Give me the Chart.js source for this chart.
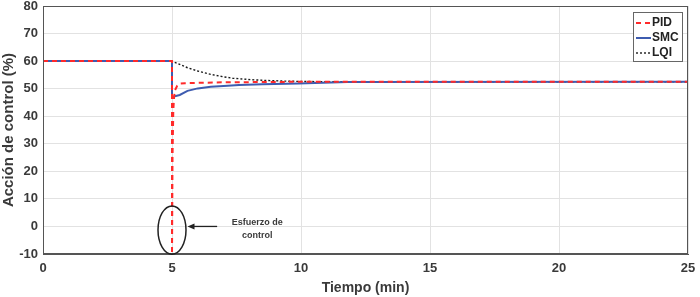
<!doctype html>
<html>
<head>
<meta charset="utf-8" />
<title>Acción de control</title>
<script src="https://cdn.jsdelivr.net/npm/chart.js@4"></script>
<style>
  html, body { margin: 0; padding: 0; background: #fff; }
  #wrap { width: 700px; height: 297px; }
</style>
</head>
<body>
<div id="wrap"><canvas id="grafico"></canvas></div>
<script>
// tiempo (min) y acción de control (%)
const pidT = [0, 5, 5, 5.02, 5.05, 5.08, 5.12, 5.2, 5.3, 5.5, 7, 10, 25];
const pidU = [60, 60, -10, 25, 42, 47, 49.5, 51, 51.8, 52, 52.3, 52.5, 52.5];
const smcT = [0, 5, 5, 5.3, 5.6, 6, 6.5, 7, 7.6, 8.5, 9.9, 11.8, 25];
const smcU = [60, 60, 47, 47.7, 49.2, 50.1, 50.7, 51.0, 51.3, 51.6, 51.9, 52.4, 52.5];
const lqiT = [0, 5, 5.3, 5.6, 6, 6.5, 7, 7.35, 8, 8.6, 9.5, 11, 25];
const lqiU = [60, 60, 58.8, 57.6, 56.4, 55.2, 54.3, 53.8, 53.3, 53.0, 52.7, 52.5, 52.5];
const etiquetas = ['PID', 'SMC', 'LQI'];

const xTicks = [0, 5, 10, 15, 20, 25];
const yTicks = [-10, 0, 10, 20, 30, 40, 50, 60, 70, 80];

function puntos(t, u) { return t.map((v, i) => ({ x: v, y: u[i] })); }

const fuente = 'Liberation Sans, Arial, sans-serif';
const gris = '#3a3a3a';

const marco = {
  id: 'marco',
  afterDatasetsDraw(chart) {
    const c = chart.ctx, a = chart.chartArea, sx = chart.scales.x, sy = chart.scales.y;
    c.save();
    c.strokeStyle = '#555';
    c.lineWidth = 1;
    c.strokeRect(a.left + 0.5, a.top + 0.5, a.right - a.left - 1, a.bottom - a.top - 1);
    // anotacion: elipse + flecha + texto
    const cx = sx.getPixelForValue(5), cy = sy.getPixelForValue(-1.3);
    const ry = (sy.getPixelForValue(-10) - sy.getPixelForValue(7.5)) / 2;
    c.strokeStyle = '#222';
    c.lineWidth = 1.5;
    c.beginPath();
    c.ellipse(cx, cy, 14, ry, 0, 0, Math.PI * 2);
    c.stroke();
    const ax1 = sx.getPixelForValue(6.75), ax2 = sx.getPixelForValue(5.6);
    const ay = sy.getPixelForValue(0);
    c.lineWidth = 1.3;
    c.beginPath(); c.moveTo(ax1, ay); c.lineTo(ax2 + 4, ay); c.stroke();
    c.fillStyle = '#222';
    c.beginPath(); c.moveTo(ax2, ay); c.lineTo(ax2 + 7, ay - 3); c.lineTo(ax2 + 7, ay + 3); c.closePath(); c.fill();
    c.font = 'bold 9px ' + fuente;
    c.fillStyle = gris;
    c.textAlign = 'center';
    c.textBaseline = 'middle';
    const tx = sx.getPixelForValue(8.3);
    c.fillText('Esfuerzo de', tx, ay - 4);
    c.fillText('control', tx, ay + 9);
    c.restore();
  },
  afterDraw(chart) {
    const c = chart.ctx;
    const bx = 633, by = 12, bw = 49, bh = 49;
    c.save();
    c.fillStyle = '#fff';
    c.fillRect(bx, by, bw, bh);
    c.strokeStyle = '#666';
    c.lineWidth = 1;
    c.strokeRect(bx + 0.5, by + 0.5, bw, bh);
    chart.data.datasets.forEach((ds, i) => {
      const y = by + 11 + i * 15;
      c.strokeStyle = ds.borderColor;
      c.lineWidth = ds.borderWidth;
      c.setLineDash(ds.borderDash || []);
      c.beginPath(); c.moveTo(bx + 3, y); c.lineTo(bx + 18, y); c.stroke();
      c.setLineDash([]);
      c.fillStyle = '#222';
      c.font = 'bold 12px ' + fuente;
      c.textAlign = 'left';
      c.textBaseline = 'middle';
      c.fillText(ds.label, bx + 19, y);
    });
    c.restore();
  }
};

new Chart(document.getElementById('grafico'), {
  type: 'line',
  data: {
    datasets: [
      { label: etiquetas[0], data: puntos(pidT, pidU), borderColor: '#ff2a2a', borderWidth: 2, borderDash: [5, 4], pointRadius: 0, tension: 0 },
      { label: etiquetas[1], data: puntos(smcT, smcU), borderColor: '#3e5cb0', borderWidth: 2, pointRadius: 0, tension: 0 },
      { label: etiquetas[2], data: puntos(lqiT, lqiU), borderColor: '#1a1a1a', borderWidth: 1.4, borderDash: [2, 2], pointRadius: 0, tension: 0 }
    ]
  },
  options: {
    responsive: true,
    maintainAspectRatio: false,
    animation: false,
    layout: { padding: { top: 6, right: 12, left: 0, bottom: 0 } },
    plugins: { legend: { display: false }, tooltip: { enabled: false } },
    scales: {
      x: {
        type: 'linear', min: 0, max: 25,
        afterBuildTicks(s) { s.ticks = xTicks.map(v => ({ value: v })); },
        afterFit(s) { s.height = 43; s.paddingRight = 0; s.paddingLeft = 0; },
        grid: { color: '#e2e2e2', drawTicks: false },
        border: { color: '#555' },
        ticks: { padding: 7, color: gris, font: { family: fuente, size: 13, weight: 'bold' }, maxRotation: 0 },
        title: { display: true, text: 'Tiempo (min)', color: gris, font: { family: fuente, size: 14, weight: 'bold' }, padding: { top: 0, bottom: 0 } }
      },
      y: {
        type: 'linear', min: -10, max: 80,
        afterBuildTicks(s) { s.ticks = yTicks.map(v => ({ value: v })); },
        afterFit(s) { s.width = 43; s.paddingTop = 0; s.paddingBottom = 0; },
        grid: { color: '#e2e2e2', drawTicks: false },
        border: { color: '#555' },
        ticks: { padding: 5, color: gris, font: { family: fuente, size: 13, weight: 'bold' } },
        title: { display: true, text: 'Acción de control (%)', color: gris, font: { family: fuente, size: 15, weight: 'bold' }, padding: { top: 0, bottom: 1 } }
      }
    }
  },
  plugins: [marco]
});
</script>
</body>
</html>
